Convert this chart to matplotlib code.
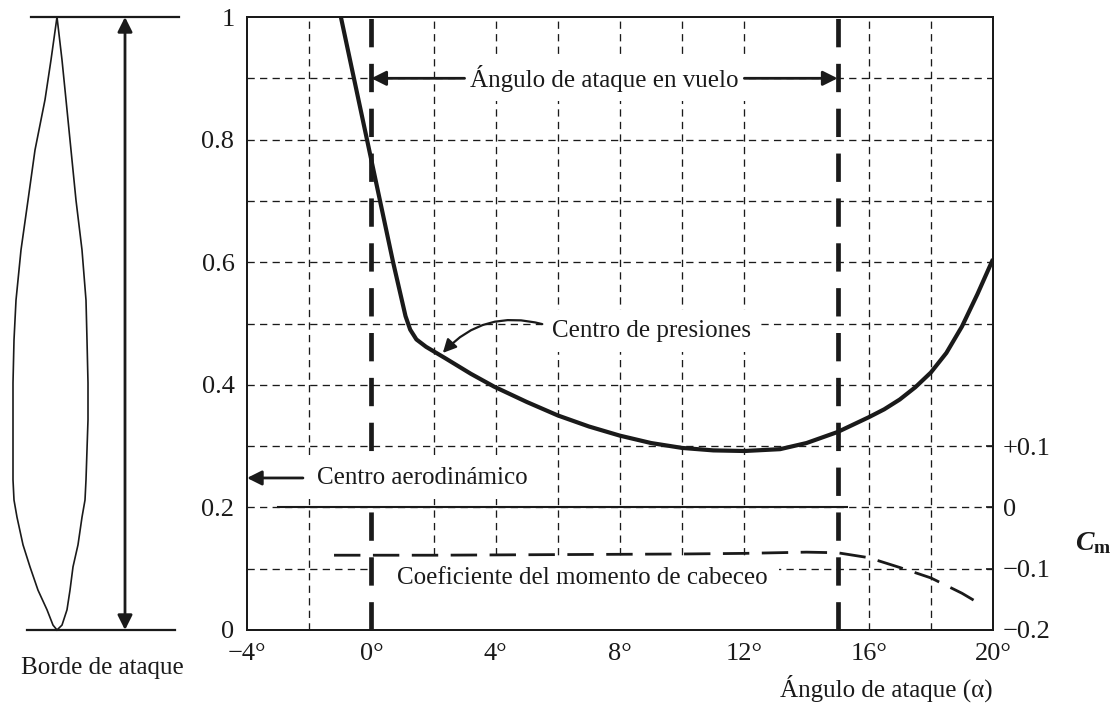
import matplotlib
matplotlib.use("Agg")
import matplotlib.pyplot as plt
from matplotlib.patches import Rectangle

plt.rcParams['font.family'] = ['Liberation Serif', 'DejaVu Serif']
plt.rcParams['font.size'] = 18
plt.rcParams['mathtext.fontset'] = 'custom'
plt.rcParams['mathtext.rm'] = 'Liberation Serif'
plt.rcParams['mathtext.it'] = 'Liberation Serif:italic:bold'
plt.rcParams['mathtext.bf'] = 'Liberation Serif:bold'

# centro de presiones (fraccion de cuerda) vs angulo de ataque
alpha_cp = [-0.98, -0.56, -0.14, 0.28, 0.7, 0.95, 1.1, 1.25, 1.45, 1.76, 2.39,
            3.2, 3.95, 5.0, 6.0, 7.0, 8.0, 9.0, 10.0, 11.0, 12.0, 13.15, 14.0,
            15.0, 16.0, 16.5, 17.0, 17.5, 18.0, 18.5, 19.0, 19.5, 20.0]
cp = [1.0, 0.9, 0.8, 0.7, 0.6, 0.545, 0.512, 0.49, 0.474, 0.462, 0.443,
      0.418, 0.397, 0.372, 0.35, 0.332, 0.317, 0.305, 0.297, 0.293, 0.292, 0.295, 0.305,
      0.323, 0.347, 0.36, 0.376, 0.396, 0.42, 0.452, 0.495, 0.548, 0.605]

# coeficiente del momento de cabeceo
alpha_cm = [-1.2, 2, 6, 10, 12, 14, 15, 16, 17, 18, 19, 19.5]
cm = [-0.078, -0.078, -0.077, -0.076, -0.075, -0.073, -0.074, -0.082, -0.098, -0.115, -0.14, -0.155]

# linea del centro aerodinamico (Cm = 0)
alpha_ac = [-3.0, 15.3]
cm_ac = [0.0, 0.0]

# angulo de ataque en vuelo
alpha_vuelo = [0, 15]

# perfil (izquierda): posicion en la cuerda y bordes
perfil_pos = [1.0, 0.930, 0.865, 0.783, 0.701, 0.620, 0.538, 0.473, 0.403, 0.343,
              0.294, 0.245, 0.212, 0.184, 0.139, 0.103, 0.065, 0.033, 0.008, 0.0]
perfil_izq = [57, 51, 45, 35, 28, 21, 16, 14, 13, 13, 13, 13, 14, 17, 23, 30, 38, 47, 53, 57]
perfil_der = [57, 62, 66, 71, 76, 82, 86, 87, 88, 88, 87, 86, 85, 82, 78, 73, 70, 67, 62, 57]

grid_x = [-2, 2, 4, 6, 8, 10, 12, 16, 18]
grid_y = [0.1, 0.2, 0.3, 0.4, 0.5, 0.6, 0.7, 0.8, 0.9]
xticks = [-4, 0, 4, 8, 12, 16, 20]
xlabels = ['\u22124°', '0°', '4°', '8°', '12°', '16°', '20°']
yticks = [0, 0.2, 0.4, 0.6, 0.8, 1.0]
ylabels = ['0', '0.2', '0.4', '0.6', '0.8', '1']
cm_ticks = [-0.2, -0.1, 0, 0.1]
cm_labels = ['\u22120.2', '\u22120.1', '0', '+0.1']

k = '#1a1a1a'
W, H = 1117, 705
fig = plt.figure(figsize=(W / 100, H / 100), dpi=100)
ax_l, ax_r, ax_t, ax_b = 247, 993, 17, 630
pos = [ax_l / W, 1 - ax_b / H, (ax_r - ax_l) / W, (ax_b - ax_t) / H]
ax = fig.add_axes(pos)
ax.set_xlim(-4, 20)
ax.set_ylim(0, 1)

grid_ls = (0, (5.5, 4))
ax.vlines(grid_x, 0, 1, colors=k, linestyles=[grid_ls], lw=0.95, zorder=0.5)
ax.hlines(grid_y, -4, 20, colors=k, linestyles=[grid_ls], lw=0.95, zorder=0.5)

# zona blanca bajo la curva de Cm
ax.add_patch(Rectangle((0, 0), 13.1, 0.118, fc='white', ec='none', zorder=1))

ax.plot(alpha_cp, cp, color=k, lw=3.0, solid_capstyle='butt', solid_joinstyle='round', zorder=3)
for a in alpha_vuelo:
    ax.axvline(a, color=k, lw=3.4, ls=(0, (6, 3.5)), zorder=2.6)

ax.set_xticks(xticks)
ax.set_xticklabels(xlabels)
ax.set_yticks(yticks)
ax.set_yticklabels(ylabels)
ax.tick_params(axis='both', length=0, colors=k, labelsize=19)
ax.tick_params(axis='x', pad=9)
ax.tick_params(axis='y', pad=9)
for s in ax.spines.values():
    s.set_linewidth(1.4)
    s.set_color(k)

ax2 = ax.twinx()
ax2.set_ylim(-0.2, 0.8)
ax2.plot(alpha_ac, cm_ac, color=k, lw=1.5, zorder=2)
ax2.plot(alpha_cm, cm, color=k, lw=2.0, ls=(0, (9.5, 4.5)), zorder=2)
ax2.set_yticks(cm_ticks)
ax2.set_yticklabels(cm_labels)
ax2.tick_params(axis='y', direction='in', length=5, width=1.2, pad=7, colors=k, labelsize=19)
for s in ax2.spines.values():
    s.set_linewidth(1.4)
    s.set_color(k)

arr = dict(arrowstyle='-|>', color=k, lw=2.0, mutation_scale=22, shrinkA=0, shrinkB=0)

ax.text(7.5, 0.9, 'Ángulo de ataque en vuelo', ha='center', va='center', color=k,
        zorder=1, bbox=dict(boxstyle='square,pad=0.35', fc='white', ec='none'))
ax.annotate('', xy=(alpha_vuelo[0], 0.9), xytext=(3.0, 0.9), arrowprops=arr, zorder=3)
ax.annotate('', xy=(alpha_vuelo[1], 0.9), xytext=(12.0, 0.9), arrowprops=arr, zorder=3)

ax.text(9.0, 0.487, 'Centro de presiones', ha='center', va='center', color=k,
        zorder=1, bbox=dict(boxstyle='square,pad=0.4', fc='white', ec='none'))
ax.annotate('', xy=(2.3, 0.452), xytext=(5.5, 0.499),
            arrowprops=dict(arrowstyle='-|>', color=k, lw=1.6, mutation_scale=20,
                            shrinkA=0, shrinkB=0, connectionstyle='arc3,rad=0.3'), zorder=3)

ax.text(-1.75, 0.248, 'Centro aerodinámico', ha='left', va='center', color=k,
        zorder=4, bbox=dict(boxstyle='square,pad=0.4', fc='white', ec='none'))
ax.annotate('', xy=(-4, 0.248), xytext=(-2.2, 0.248), arrowprops=arr, zorder=3)

ax.text(6.8, 0.085, 'Coeficiente del momento de cabeceo', ha='center', va='center',
        color=k, zorder=1.2)

ax.text(0.8566, -0.095, 'Ángulo de ataque (α)', transform=ax.transAxes,
        ha='center', va='center', color=k)
fig.text(1075 / W, 1 - 550 / H, r'$C_{\mathbf{m}}$', fontsize=20, ha='left',
         va='baseline', color=k)

# panel izquierdo: perfil
axp = fig.add_axes([0, pos[1], 200 / W, pos[3]])
axp.set_xlim(0, 200)
axp.set_ylim(0, 1)
axp.axis('off')
axp.plot(perfil_izq, perfil_pos, color=k, lw=1.2, clip_on=False, solid_joinstyle='round')
axp.plot(perfil_der, perfil_pos, color=k, lw=1.2, clip_on=False, solid_joinstyle='round')
axp.plot([31, 179], [1, 1], color=k, lw=1.6, clip_on=False)
axp.plot([27, 175], [0, 0], color=k, lw=1.6, clip_on=False)
axp.annotate('', xy=(125, 1), xytext=(125, 0),
             arrowprops=dict(arrowstyle='<|-|>', color=k, lw=2.0, mutation_scale=22,
                             shrinkA=0, shrinkB=0), annotation_clip=False)
axp.text(102, -0.062, 'Borde de ataque', ha='center', va='center', color=k)

fig.savefig('out.png', dpi=100)
